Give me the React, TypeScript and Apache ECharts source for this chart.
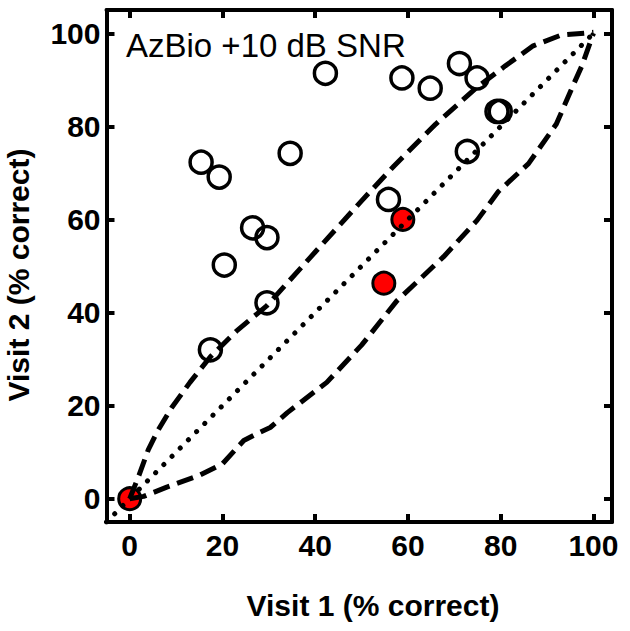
import React, { useEffect, useRef } from "react";
import * as echarts from "echarts";

const xTicks = [0, 20, 40, 60, 80, 100];
const yTicks = [0, 20, 40, 60, 80, 100];

const openX = [15.4, 19.3, 34.6, 42.2, 55.8, 26.5, 29.6, 20.4, 29.6, 17.4, 58.7, 64.8, 71.1, 74.9, 79.2, 79.9, 72.8];
const openY = [72.3, 69.1, 74.2, 91.4, 64.3, 58.2, 56.1, 50.2, 42.1, 32.0, 90.4, 88.2, 93.5, 90.4, 83.2, 83.2, 74.6];

const redX = [0, 54.8, 58.9];
const redY = [0, 46.3, 60];

const upperX = [0, 2, 4, 6, 9, 13, 17.4, 23, 29.6, 40, 50, 57, 66, 75, 81, 87, 93, 100];
const upperY = [0, 5, 10.5, 14.5, 19.5, 25, 30.5, 36, 41.5, 53, 64, 71.5, 80.5, 88.5, 93, 97.3, 99.6, 100.2];

const lowerX = [0, 3, 8, 15, 20, 24.6, 27.5, 30.3, 34, 42.5, 50, 57.6, 67.7, 74.9, 79.5, 86, 92, 95.7, 97.5, 100];
const lowerY = [0, 0.5, 2.5, 5, 7.5, 12.5, 14, 15.3, 18.5, 25, 33, 42.5, 52, 59.8, 66, 72, 80.5, 89, 93, 100];

const diagX = [-5, 100];
const diagY = [-5, 100];

const zip = (a: number[], b: number[]) => a.map((v, i) => [v, b[i]]);

const FONT = "'Liberation Sans', Arial, sans-serif";

export default function App() {
  const ref = useRef<HTMLDivElement>(null);
  useEffect(() => {
    document.body.style.margin = "0";
    const chart = echarts.init(ref.current!, null, { renderer: "svg" });
    const axisLine = { show: true, onZero: false, lineStyle: { color: "#000", width: 4 } };
    const mkX = (pos: string, labels: boolean) => ({
      type: "value",
      position: pos,
      min: -5,
      max: 104,
      axisLine,
      axisTick: { show: true, inside: true, length: 8, lineStyle: { color: "#000", width: 4 }, customValues: xTicks },
      axisLabel: {
        show: labels,
        customValues: xTicks,
        fontSize: 30,
        fontWeight: "bold",
        color: "#000",
        fontFamily: FONT,
        margin: 8,
      },
      splitLine: { show: false },
    });
    const mkY = (pos: string, labels: boolean) => ({
      type: "value",
      position: pos,
      min: -5,
      max: 105,
      axisLine,
      axisTick: { show: true, inside: true, length: 8, lineStyle: { color: "#000", width: 4 }, customValues: yTicks },
      axisLabel: {
        show: labels,
        customValues: yTicks,
        fontSize: 30,
        fontWeight: "bold",
        color: "#000",
        fontFamily: FONT,
        margin: 6,
      },
      splitLine: { show: false },
    });
    chart.setOption({
      animation: false,
      backgroundColor: "#fff",
      grid: { left: 106.5, right: 18, top: 10, bottom: 109, containLabel: false },
      xAxis: [mkX("bottom", true), mkX("top", false)],
      yAxis: [mkY("left", true), mkY("right", false)],
      graphic: [
        {
          type: "text",
          x: 126,
          y: 45,
          style: { text: "AzBio +10 dB SNR", fontSize: 33, fontFamily: FONT, fill: "#000", align: "left", verticalAlign: "middle" },
        },
        {
          type: "text",
          x: 373,
          y: 605,
          style: { text: "Visit 1 (% correct)", fontSize: 30, fontWeight: "bold", fontFamily: FONT, fill: "#000", align: "center", verticalAlign: "middle" },
        },
        {
          type: "text",
          x: 18,
          y: 275,
          rotation: Math.PI / 2,
          style: { text: "Visit 2 (% correct)", fontSize: 30, fontWeight: "bold", fontFamily: FONT, fill: "#000", align: "center", verticalAlign: "middle" },
        },
      ],
      series: [
        {
          type: "scatter",
          data: zip(openX, openY),
          symbol: "circle",
          symbolSize: 22,
          itemStyle: { color: "rgba(255,255,255,0)", borderColor: "#000", borderWidth: 3.5, opacity: 1 },
          z: 2,
        },
        {
          type: "scatter",
          data: zip(redX, redY),
          symbol: "circle",
          symbolSize: 22,
          itemStyle: { color: "#ff0000", borderColor: "#000", borderWidth: 3, opacity: 1 },
          z: 3,
        },
        {
          type: "line",
          data: zip(upperX, upperY),
          showSymbol: false,
          symbol: "none",
          lineStyle: { color: "#000", width: 5, type: [17, 8], cap: "butt" },
          z: 5,
        },
        {
          type: "line",
          data: zip(lowerX, lowerY),
          showSymbol: false,
          symbol: "none",
          lineStyle: { color: "#000", width: 5, type: [17, 8], cap: "butt" },
          z: 5,
        },
        {
          type: "line",
          data: zip(diagX, diagY),
          showSymbol: false,
          symbol: "none",
          lineStyle: { color: "#000", width: 5, type: [0.1, 11.5], cap: "round" },
          z: 5,
        },
      ],
    });
    return () => chart.dispose();
  }, []);
  return <div ref={ref} style={{ width: 630, height: 631 }} />;
}
